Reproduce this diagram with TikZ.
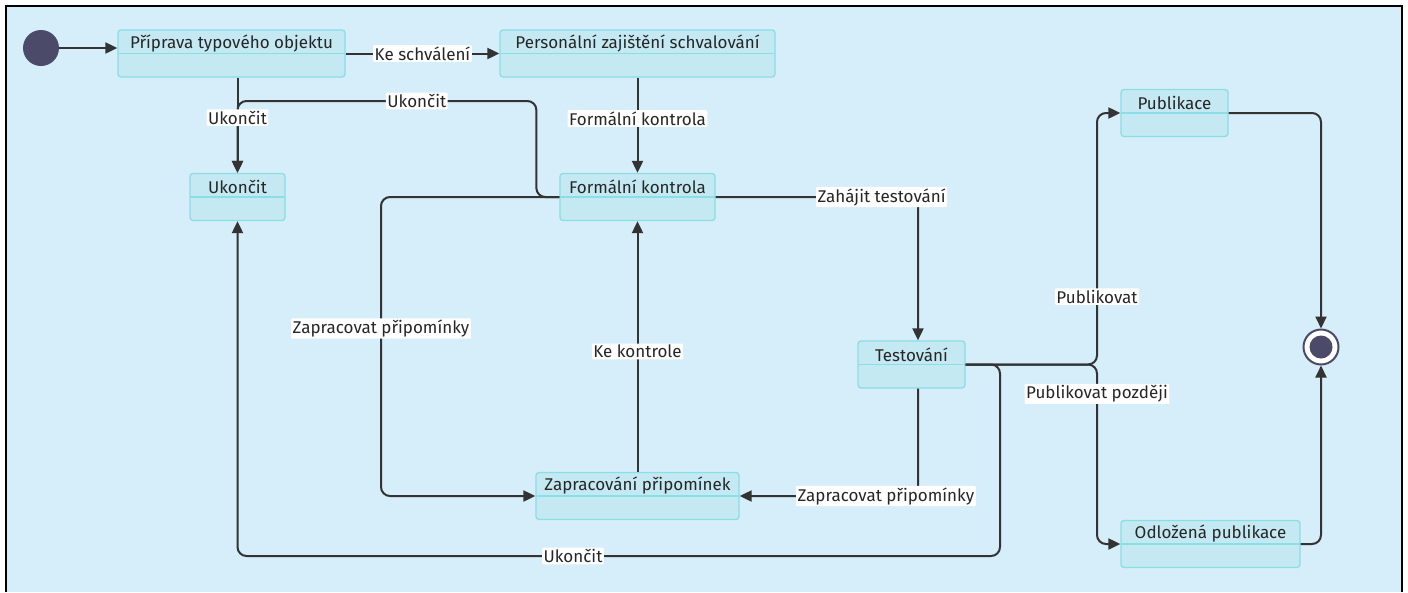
\documentclass[tikz,border=0pt]{standalone}
\usepackage{fontspec}
\setmainfont{Fira Sans}
\usetikzlibrary{arrows.meta}
\definecolor{bgblue}{RGB}{214,237,250}
\definecolor{stfill}{RGB}{196,233,243}
\definecolor{stline}{RGB}{138,222,230}
\definecolor{dot}{RGB}{75,74,104}
\definecolor{edgec}{RGB}{51,51,51}
\begin{document}
\begin{tikzpicture}[x=1pt,y=-1pt,
  font=\fontsize{17}{20}\selectfont,
  state/.style={draw=stline,fill=stfill,line width=1.3pt,rounded corners=3pt,
    minimum height=47pt,inner sep=0pt,
    path picture={\draw[stline,line width=1.3pt] (path picture bounding box.west) -- (path picture bounding box.east);}},
  stname/.style={anchor=center,yshift=-14pt,text=black!85},
  edge/.style={draw=edgec,line width=2pt,rounded corners=9pt,-{Triangle[length=12pt,width=11pt]}},
  lbl/.style={fill=white,inner sep=1.5pt,rounded corners=1pt,text=black!85}]
\useasboundingbox (0,0) rectangle (1408,592);
\fill[white] (0,0) rectangle (1408,592);
\fill[bgblue] (6,6) rectangle (1402,592);
\draw[line width=2.5pt] (6,592) -- (6,6) -- (1402,6) -- (1402,592);
% states
\node[circle,fill=dot,minimum size=36pt,inner sep=0pt] (init) at (41,48) {};
\node[state,minimum width=227pt,label={[stname]north:Příprava typového objektu}] (prip) at (231.5,53.5) {};
\node[state,minimum width=275pt,label={[stname]north:Personální zajištění schvalování}] (pers) at (637.5,53.5) {};
\node[state,minimum width=95pt,label={[stname]north:Ukončit}] (ukon) at (237.5,197) {};
\node[state,minimum width=155pt,label={[stname]north:Formální kontrola}] (form) at (637.5,197) {};
\node[state,minimum width=107pt,label={[stname]north:Testování}] (test) at (911.5,364.5) {};
\node[state,minimum width=107pt,label={[stname]north:Publikace}] (publ) at (1174.5,113) {};
\node[state,minimum width=203pt,label={[stname]north:Zapracování připomínek}] (zapr) at (637.5,496) {};
\node[state,minimum width=179pt,label={[stname]north:Odložená publikace}] (odlo) at (1210.5,544) {};
\node[circle,draw=dot,fill=white,line width=2pt,minimum size=35pt,inner sep=0pt,
  path picture={\fill[dot] (path picture bounding box.center) circle (11.5pt);}] (fin) at (1321,347) {};
% bends
\coordinate (k1) at (237.5,101);
\coordinate (zl) at (381,496);
\coordinate (u1) at (1000,556);
\coordinate (u2) at (237.5,556);
\coordinate (fork) at (1097,364.5);
% transitions
\draw[edge] (init) -- (init -| prip.west);
\draw[edge] (prip.east) -- node[lbl]{Ke schválení} (pers.west);
\draw[edge] (form.west) -- ++(-23,0) |- node[lbl,pos=0.7]{Ukončit} (k1) -- (ukon.north);
\draw[edge] (ukon.north |- prip.south) -- node[lbl,pos=0.42]{Ukončit} (ukon.north);
\draw[edge] (pers.south) -- node[lbl,pos=0.43]{Formální kontrola} (form.north);
\draw[edge] (form.east) -| node[lbl,pos=0.41]{Zahájit testování} ([xshift=6.5pt]test.north);
\draw[edge] (form.west) -| node[lbl,pos=0.72]{Zapracovat připomínky} (zl) -- (zapr.west);
\draw[edge] (zapr.north) -- node[lbl,pos=0.48]{Ke kontrole} (form.south);
\draw[edge] ([xshift=6.5pt]test.south) |- node[lbl,pos=0.59]{Zapracovat připomínky} (zapr.east);
\draw[edge] (test.east) -| (u1) -- node[lbl,pos=0.56]{Ukončit} (u2) -- (ukon.south);
\draw[edge] (test.east) -- (fork) |- node[lbl,pos=0.135]{Publikovat} (publ.west);
\draw[edge] (test.east) -- (fork) |- node[lbl,pos=0.082]{Publikovat později} (odlo.west);
\draw[edge] (publ.east) -| (fin.north);
\draw[edge] (odlo.east) -| (fin.south);
\end{tikzpicture}
\end{document}
